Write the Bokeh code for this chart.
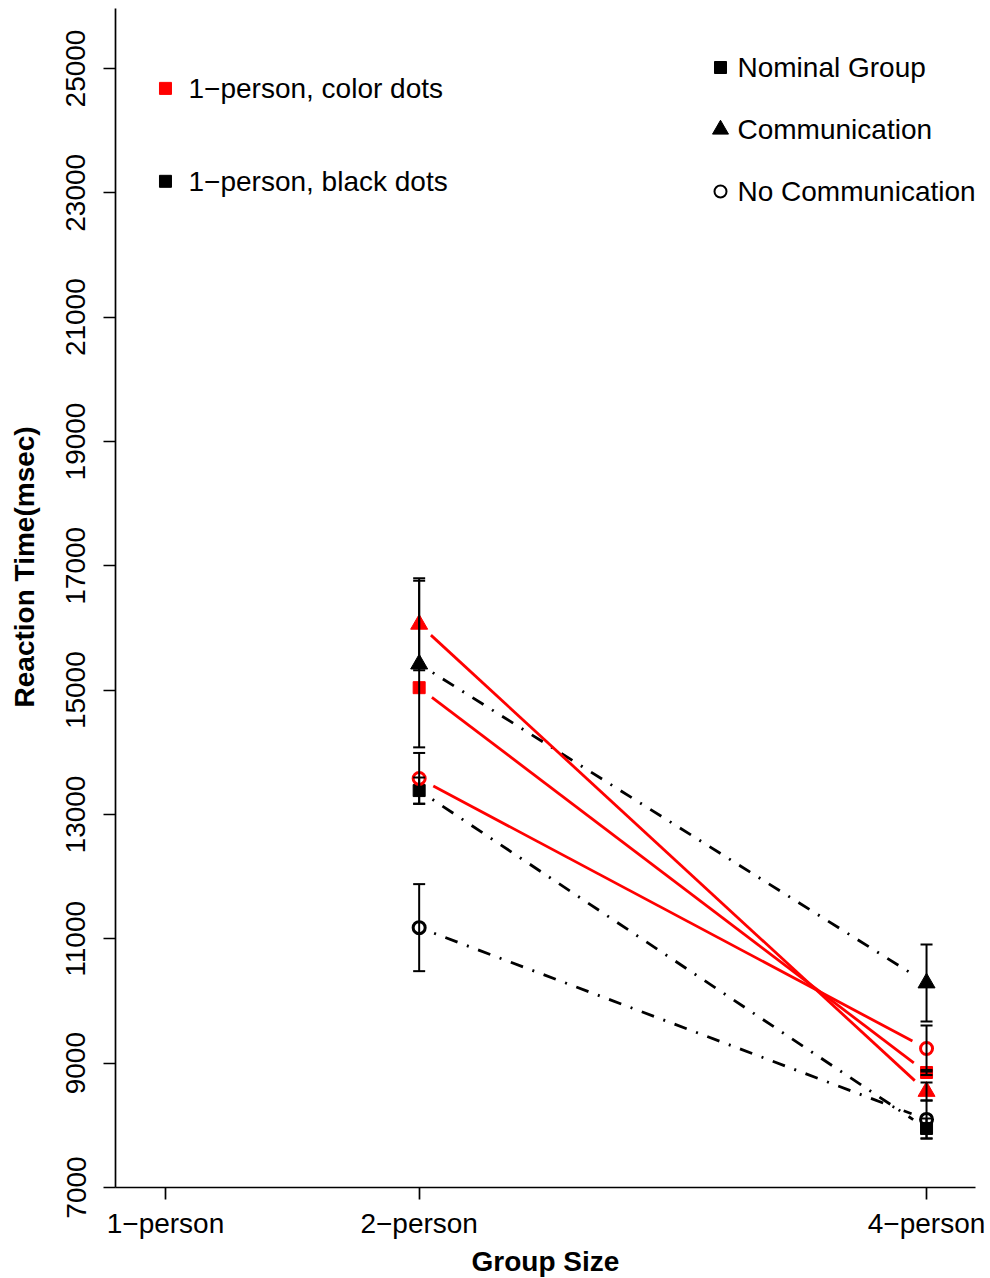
import math

from bokeh.core.properties import value
from bokeh.embed import file_html
from bokeh.models import ColumnDataSource, FixedTicker, Range1d, TeeHead, Whisker
from bokeh.plotting import figure
from bokeh.resources import INLINE

# ---- data -----------------------------------------------------------------
size_ticks = [1, 2, 4]
size_labels = ["1\u2212person", "2\u2212person", "4\u2212person"]
y_ticks = [7000, 9000, 11000, 13000, 15000, 17000, 19000, 21000, 23000, 25000]

measured_sizes = [2, 4]

# mean reaction time (msec) and error half-width per condition
color_nominal = [15040, 8850]
color_nominal_err = [0, 40]
color_comm = [16060, 8545]
color_comm_err = [740, 145]
color_nocomm = [13580, 9235]
color_nocomm_err = [410, 370]

black_nominal = [13385, 7950]
black_nominal_err = [210, 160]
black_comm = [15420, 10290]
black_comm_err = [1340, 620]
black_nocomm = [11180, 8095]
black_nocomm_err = [700, 305]

top_left_labels = ["1\u2212person, color dots", "1\u2212person, black dots"]
top_left_colors = ["red", "black"]
top_left_values = [24680, 23185]

legend_labels = ["Nominal Group", "Communication", "No Communication"]

# ---- geometry ---------------------------------------------------------------
FONT = "Liberation Sans"
FS = "28px"
W, H = 990, 1278
LEFT, RIGHT, TOP, BOTTOM = 115, 15, 8, 91
FW, FH = W - LEFT - RIGHT, H - TOP - BOTTOM
X0, X1 = 0.803, 4.193
Y0, Y1 = 7000, 25965
KX = FW / (X1 - X0)
KY = FH / (Y1 - Y0)


def px_to_x(px):
    return X0 + (px - LEFT) / KX


def px_to_y(py):
    return Y0 + (TOP + FH - py) / KY


def gapped(xs, ys, gap=16):
    """Segment between two points, trimmed by `gap` screen pixels at each end."""
    dx = (xs[1] - xs[0]) * KX
    dy = (ys[1] - ys[0]) * KY
    length = math.hypot(dx, dy)
    fx, fy = gap * dx / length / KX, gap * dy / length / KY
    return [xs[0] + fx, xs[1] - fx], [ys[0] + fy, ys[1] - fy]


p = figure(
    frame_width=FW,
    frame_height=FH,
    min_border_left=LEFT,
    min_border_right=RIGHT,
    min_border_top=TOP,
    min_border_bottom=BOTTOM,
    x_range=Range1d(X0, X1),
    y_range=Range1d(Y0, Y1),
    output_backend="svg",
    toolbar_location=None,
    background_fill_color="white",
    border_fill_color="white",
)
p.outline_line_color = None
p.grid.visible = False

# axes
for ax in (p.xaxis[0], p.yaxis[0]):
    ax.axis_line_color = "black"
    ax.axis_line_width = 1.7
    ax.major_tick_line_color = "black"
    ax.major_tick_line_width = 1.7
    ax.major_tick_out = 12
    ax.major_tick_in = 0
    ax.minor_tick_line_color = None
    ax.major_label_text_font = FONT
    ax.major_label_text_font_size = FS
    ax.major_label_text_color = "black"
    ax.axis_label_text_font = FONT
    ax.axis_label_text_font_size = FS
    ax.axis_label_text_font_style = "bold"
    ax.axis_label_text_color = "black"

p.xaxis.ticker = FixedTicker(ticks=size_ticks)
p.xaxis.major_label_overrides = {t: lab for t, lab in zip(size_ticks, size_labels)}
p.xaxis.axis_label = "Group Size"
p.xaxis.major_label_standoff = 8
p.xaxis.axis_label_standoff = 4

p.yaxis.ticker = FixedTicker(ticks=y_ticks)
p.yaxis.major_label_orientation = "vertical"
p.yaxis.major_label_standoff = 18
# leading no-break spaces lift the centred title a little up the axis
p.yaxis.axis_label = "\u00a0" * 8 + "Reaction Time(msec)"
p.yaxis.axis_label_standoff = 24


def draw_series(vals, errs, color, marker, dashed):
    lx, ly = gapped(measured_sizes, vals)
    if dashed:
        p.line(lx, ly, line_color=color, line_width=2.8, line_dash="2 10 13 10")
    else:
        p.line(lx, ly, line_color=color, line_width=2.8)

    src = ColumnDataSource(dict(
        x=measured_sizes,
        y=vals,
        lo=[v - e for v, e in zip(vals, errs)],
        hi=[v + e for v, e in zip(vals, errs)],
    ))
    if marker == "circle":
        p.scatter("x", "y", source=src, marker="circle", size=12,
                  fill_color=None, line_color=color, line_width=3)
    elif marker == "triangle":
        p.scatter("x", "y", source=src, marker="triangle", size=17,
                  fill_color=color, line_color=color, line_width=1)
    else:
        p.scatter("x", "y", source=src, marker="square", size=12,
                  fill_color=color, line_color=color, line_width=1)

    keep = [i for i, e in enumerate(errs) if e > 0]
    esrc = ColumnDataSource({k: [v[i] for i in keep] for k, v in src.data.items()})
    p.add_layout(Whisker(
        source=esrc, base="x", lower="lo", upper="hi", dimension="height",
        line_color="black", line_width=2,
        lower_head=TeeHead(size=12, line_color="black", line_width=2),
        upper_head=TeeHead(size=12, line_color="black", line_width=2),
        level="glyph",
    ))


draw_series(black_nominal, black_nominal_err, "black", "square", True)
draw_series(black_comm, black_comm_err, "black", "triangle", True)
draw_series(black_nocomm, black_nocomm_err, "black", "circle", True)
draw_series(color_nominal, color_nominal_err, "red", "square", False)
draw_series(color_comm, color_comm_err, "red", "triangle", False)
draw_series(color_nocomm, color_nocomm_err, "red", "circle", False)

# 1-person reference keys
p.scatter([1, 1], top_left_values, marker="square", size=12,
          fill_color=top_left_colors, line_color=top_left_colors)
p.text([px_to_x(188)] * 2, top_left_values, text=top_left_labels,
       text_font=value(FONT), text_font_size=FS, text_color="black",
       text_baseline="middle", text_align="left")

# condition legend
leg_rows = [px_to_y(py) for py in (67, 129, 191)]
mx, tx = px_to_x(720), px_to_x(737)
p.scatter([mx], [leg_rows[0]], marker="square", size=12,
          fill_color="black", line_color="black")
p.scatter([mx], [leg_rows[1]], marker="triangle", size=16,
          fill_color="black", line_color="black")
p.scatter([mx], [leg_rows[2]], marker="circle", size=12,
          fill_color=None, line_color="black", line_width=2)
p.text([tx] * 3, leg_rows, text=legend_labels,
       text_font=value(FONT), text_font_size=FS, text_color="black",
       text_baseline="middle", text_align="left")

open("out.html", "w").write(file_html(p, INLINE))
